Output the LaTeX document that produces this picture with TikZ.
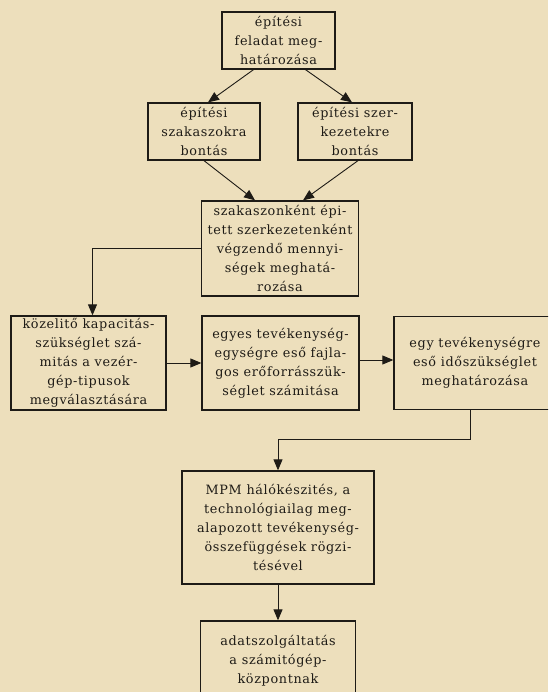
\documentclass[tikz,border=0pt]{standalone}
\usepackage{fontspec}
\setmainfont[LetterSpace=5]{DejaVu Serif}
\usetikzlibrary{arrows.meta}
\definecolor{paper}{RGB}{237,223,188}
\definecolor{ink}{RGB}{30,27,22}
\tikzset{
  task box/.style={
    draw=ink,
    line width=1.3pt,
    text=ink,
    align=center,
    inner sep=2pt,
    font=\fontsize{12.8}{19}\selectfont,
    minimum width={#1pt},
  },
  flow/.style={
    draw=ink,
    line width=0.9pt,
    -{Triangle[length=11pt,width=9pt]},
  }
}

\begin{document}
\begin{tikzpicture}[x=1pt,y=-1pt]
        \useasboundingbox (0,0) rectangle (548,692);
        \fill [paper] (0,0) rectangle (548,692);
        \clip (0,0) rectangle (548,692);

        \node [task box=113, minimum height=57pt] (b1) at (278.5,40.5)
          {építési\\feladat meg-\\határozása};
        \node [task box=112, minimum height=57pt] (b2) at (204,131.5)
          {építési\\szakaszokra\\bontás};
        \node [task box=114, minimum height=57pt] (b3) at (355,131.5)
          {építési szer-\\kezetekre\\bontás};
        \node [task box=157, minimum height=95pt] (b4) at (280,248.5)
          {szakaszonként épi-\\tett szerkezetenként\\végzendő mennyi-\\ségek meghatá-\\rozása};
        \node [task box=155, minimum height=94pt] (b5) at (88.5,363)
          {közelitő kapacitás-\\szükséglet szá-\\mitás a vezér-\\gép-tipusok\\megválasztására};
        \node [task box=157, minimum height=94pt] (b6) at (280.5,363)
          {egyes tevékenység-\\egységre eső fajla-\\gos erőforrásszük-\\séglet számitása};
        \node [task box=162, minimum height=93pt] (b7) at (475,363)
          {egy tevékenységre\\eső időszükséglet\\meghatározása};
        \node [task box=192, minimum height=113pt] (b8) at (278,527.5)
          {MPM hálókészités, a\\technológiailag meg-\\alapozott tevékenység-\\összefüggések rögzi-\\tésével};
        \node [task box=155, minimum height=80pt] (b9) at (278,661)
          {adatszolgáltatás\\a számitógép-\\központnak};

        \draw [flow] ([xshift=-25pt]b1.south) -- ([xshift=4pt]b2.north);
        \draw [flow] ([xshift=27pt]b1.south) -- ([xshift=-3pt]b3.north);
        \draw [flow] (b2.south) -- ([xshift=-25pt]b4.north);
        \draw [flow] ([xshift=3pt]b3.south) -- ([xshift=23pt]b4.north);
        \draw [flow] (b4.west) -| ([xshift=4pt]b5.north);
        \draw [flow] (b5.east) -- (b6.west);
        \draw [flow] ([yshift=3pt]b6.east) -- ([yshift=3pt]b7.west);
        \draw [flow] ([xshift=-5pt]b7.south) -- ++(0,29) -| (b8.north);
        \draw [flow] (b8.south) -- (b9.north);
      \end{tikzpicture}
\end{document}
